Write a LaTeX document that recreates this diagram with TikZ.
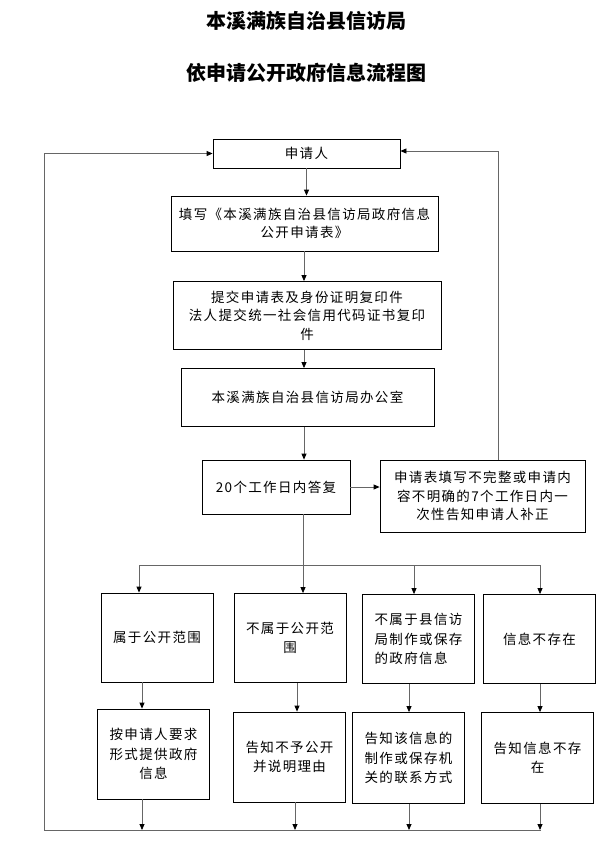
\documentclass[tikz,border=0pt]{standalone}
\usepackage{fontspec}
\newfontfamily\cjk[LetterSpace=10]{Noto Sans CJK SC}
\newfontfamily\headfont{Noto Sans CJK SC}
\usetikzlibrary{arrows.meta}
\begin{document}
\begin{tikzpicture}[x=1pt,y=-1pt,
    box/.style={draw,line width=0.8pt,inner sep=0pt,align=center,
      font=\cjk\fontsize{13.5}{18.5}\selectfont},
    link/.style={draw=black!60,line width=0.8pt},
    arr/.style={link,-{Triangle[length=6pt,width=5pt,color=black]}}]
    \useasboundingbox (0,0) rectangle (612,849);
    \node[font=\headfont\bfseries\fontsize{20}{24}\selectfont] (title) at (306,21) {本溪满族自治县信访局};
    \node[font=\headfont\bfseries\fontsize{20}{24}\selectfont] (subtitle) at (306,72.5) {依申请公开政府信息流程图};
    \node[box,minimum width=187pt,minimum height=29pt] (app) at (306.5,153.5) {申请人};
    \node[box,minimum width=267pt,minimum height=55pt] (form) at (304.5,223.5)
      {填写《本溪满族自治县信访局政府信息\\公开申请表》};
    \node[box,minimum width=268pt,minimum height=68pt] (submit) at (307,315.5)
      {提交申请表及身份证明复印件\\法人提交统一社会信用代码证书复印\\件};
    \node[box,minimum width=253pt,minimum height=58pt] (office) at (307.5,397.5) {本溪满族自治县信访局办公室};
    \node[box,minimum width=148pt,minimum height=54pt] (reply) at (276,487) {20个工作日内答复};
    \node[box,minimum width=205pt,minimum height=72pt] (fix) at (482.5,496)
      {申请表填写不完整或申请内\\容不明确的7个工作日内一\\次性告知申请人补正};
    \begin{scope}[box/.append style={minimum width=112pt,minimum height=89pt,
        font=\cjk\fontsize{13.5}{19.5}\selectfont}]
      \node[box] (open) at (157,637.5) {属于公开范围};
      \node[box] (closed) at (290,638) {不属于公开范\\围};
      \node[box,align=left] (other) at (418.5,639) {不属于县信访\\局制作或保存\\的政府信息};
      \node[box] (none) at (539.5,639) {信息不存在};
      \node[box,minimum height=90pt] (give) at (153.5,754) {按申请人要求\\形式提供政府\\信息};
      \node[box,minimum height=90pt] (deny) at (289.5,757) {告知不予公开\\并说明理由};
      \node[box,minimum height=91pt] (refer) at (408.5,758) {告知该信息的\\制作或保存机\\关的联系方式};
      \node[box,minimum height=91pt] (absent) at (537.5,758) {告知信息不存\\在};
    \end{scope}
    \coordinate (spine) at (304,0);
    \draw[arr] (app.south) -- (app.south |- form.north);
    \draw[arr] (form.south -| spine) -- (spine |- submit.north);
    \draw[arr] (submit.south -| spine) -- (spine |- office.north);
    \draw[arr] (office.south -| spine) -- (spine |- reply.north);
    \draw[arr] (reply.east) -- (fix.west |- reply.east);
    \coordinate (rt) at (498,151);
    \draw[arr] (fix.north -| rt) -- (rt) -- (app.east |- rt);
    \coordinate (lb) at (44,830);
    \coordinate (rb) at (541,830);
    \draw[arr] (rb) -- (lb) -- (lb |- app.west) -- (app.west);
    \coordinate (bl) at (139,565);
    \coordinate (br) at (540,565);
    \draw[link] (reply.south -| 303,0) -- (303,565);
    \draw[link] (bl) -- (br);
    \foreach \n/\x in {open/139,closed/303,other/414,none/540} {
      \coordinate (t) at (\x,565);
      \draw[arr] (t) -- (t |- \n.north);
    }
    \foreach \a/\b/\x in {open/give/142,closed/deny/297,other/refer/409,none/absent/540} {
      \coordinate (t) at (\x,0);
      \draw[arr] (t |- \a.south) -- (t |- \b.north);
    }
    \foreach \b/\x in {give/142,deny/295,refer/409,absent/540} {
      \coordinate (t) at (\x,830);
      \draw[arr] (t |- \b.south) -- (t);
    }
  \end{tikzpicture}
\end{document}
